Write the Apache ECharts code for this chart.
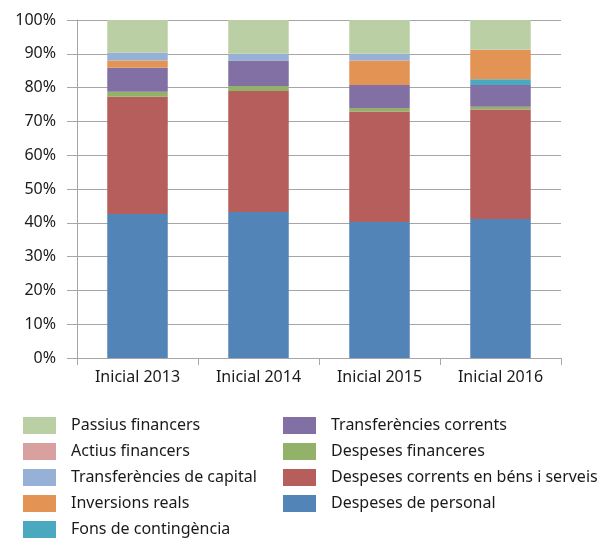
<!DOCTYPE html>
<html>
<head>
<meta charset="utf-8">
<script src="https://cdn.jsdelivr.net/npm/echarts@6/dist/echarts.min.js"></script>
<style>
  html, body { margin: 0; padding: 0; background: #fff; }
  #chart { width: 603px; height: 538px; }
</style>
</head>
<body>
<div id="chart"></div>
<script>
const fontFam = "'Noto Sans', sans-serif"

const categories = ['Inicial 2013', 'Inicial 2014', 'Inicial 2015', 'Inicial 2016']

// percentatges, de baix a dalt de la columna
const despesesPersonal = [42.6, 43.2, 40.2, 41.1]
const despesesCorrents = [34.7, 35.8, 32.7, 32.4]
const despesesFinanceres = [1.5, 1.5, 1.1, 0.8]
const transfCorrents = [7.1, 7.5, 6.8, 6.5]
const fonsContingencia = [0, 0, 0, 1.7]
const inversionsReals = [2.1, 0, 7.2, 8.7]
const transfCapital = [2.4, 2.0, 2.0, 0]
const actiusFinancers = [0, 0, 0, 0]
const passiusFinancers = [9.6, 10.0, 10.0, 8.8]

const seriesDefs = [
  ['Despeses de personal', despesesPersonal, '#5384b8'],
  ['Despeses corrents en béns i serveis', despesesCorrents, '#b55e5b'],
  ['Despeses financeres', despesesFinanceres, '#92b26a'],
  ['Transferències corrents', transfCorrents, '#826fa3'],
  ['Fons de contingència', fonsContingencia, '#4ba9bf'],
  ['Inversions reals', inversionsReals, '#e39354'],
  ['Transferències de capital', transfCapital, '#97b1d6'],
  ['Actius financers', actiusFinancers, '#d9a0a0'],
  ['Passius financers', passiusFinancers, '#bbcfa5'],
]

const legendLeft = ['Passius financers', 'Actius financers', 'Transferències de capital', 'Inversions reals', 'Fons de contingència']
const legendRight = ['Transferències corrents', 'Despeses financeres', 'Despeses corrents en béns i serveis', 'Despeses de personal']

const chart = echarts.init(document.getElementById('chart'))

const legendBase = {
  orient: 'vertical',
  top: 417,
  height: 121,
  padding: 0,
  itemWidth: 33,
  itemHeight: 17,
  itemGap: 9,
  icon: 'rect',
  selectedMode: false,
  textStyle: { fontFamily: fontFam, fontSize: 16, color: '#1a1a1a', padding: [0, 0, 0, 10], lineHeight: 17 },
}

chart.setOption({
  animation: false,
  grid: { left: 77, right: 42, top: 20, bottom: 180 },
  legend: [
    { ...legendBase, left: 23, data: legendLeft },
    { ...legendBase, left: 283, data: legendRight },
  ],
  xAxis: {
    type: 'category',
    data: categories,
    axisLine: { lineStyle: { color: '#a6a6a6', width: 1 } },
    axisTick: { show: true, length: 7, lineStyle: { color: '#a6a6a6' } },
    axisLabel: { fontFamily: fontFam, fontSize: 16, color: '#1a1a1a', margin: 11 },
  },
  yAxis: {
    type: 'value',
    min: 0,
    max: 100,
    interval: 10,
    axisLine: { show: true, lineStyle: { color: '#a6a6a6', width: 1 } },
    axisTick: { show: true, length: 10, lineStyle: { color: '#a6a6a6' } },
    splitLine: { lineStyle: { color: '#a6a6a6', width: 1 } },
    axisLabel: { fontFamily: fontFam, fontSize: 16, color: '#1a1a1a', margin: 21, formatter: '{value}%' },
  },
  series: seriesDefs.map(([name, data, color]) => ({
    name,
    type: 'bar',
    stack: 'total',
    barWidth: '50%',
    data,
    itemStyle: { color },
  })),
})
</script>
</body>
</html>
